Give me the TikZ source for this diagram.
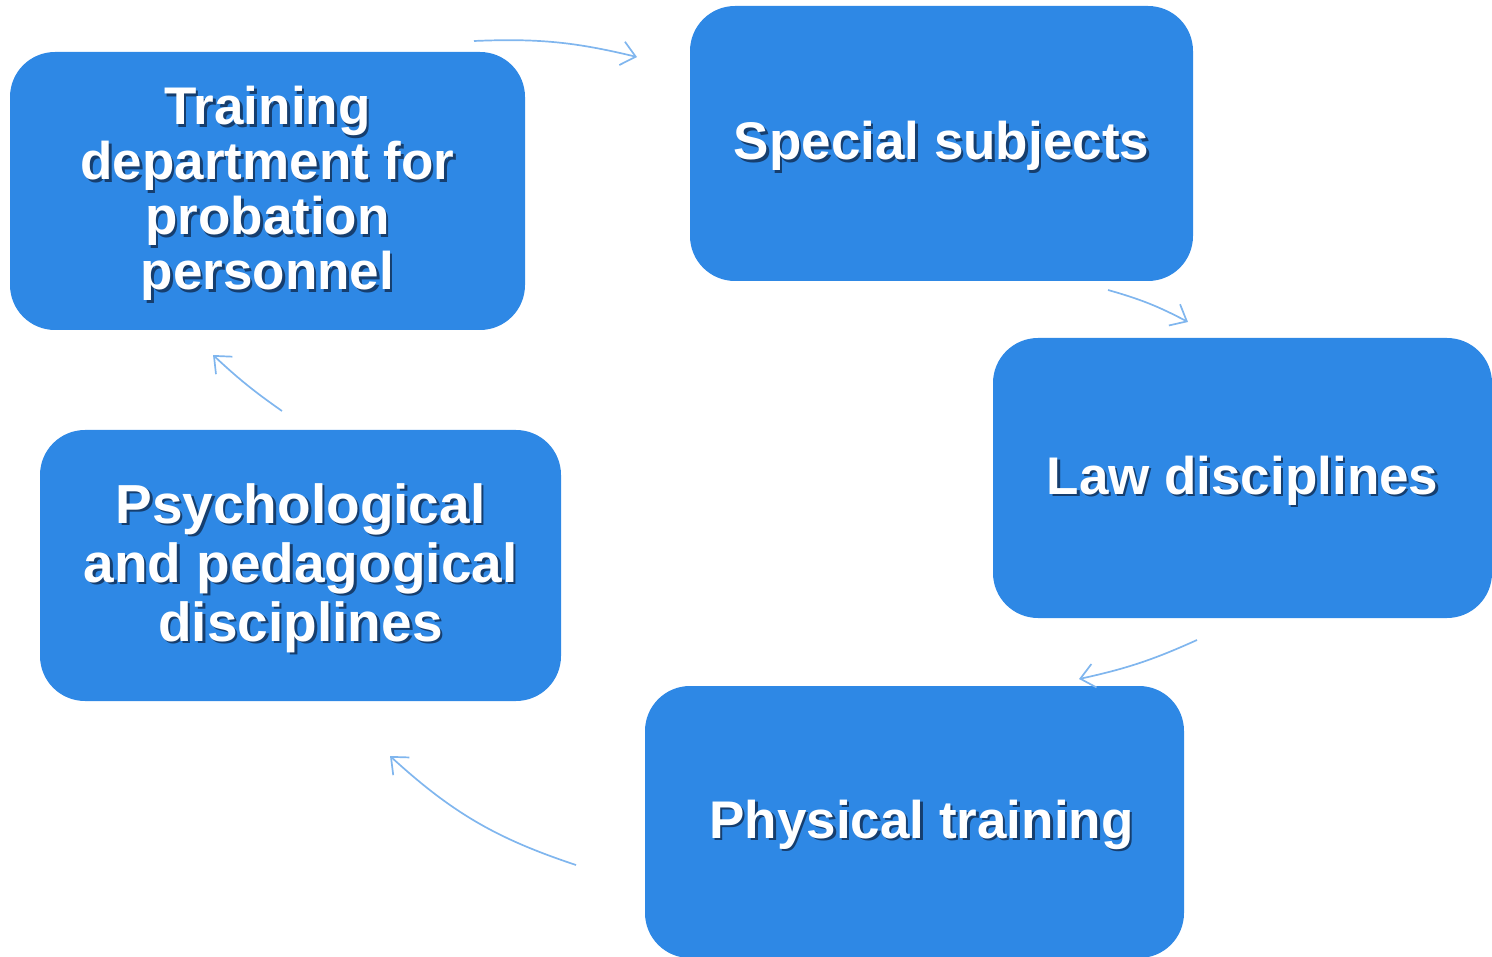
\documentclass[tikz,border=0pt]{standalone}
\usepackage{fontspec}
\setmainfont{Liberation Sans}
\usetikzlibrary{arrows.meta}
\definecolor{boxblue}{RGB}{46,136,229}
\definecolor{arrowblue}{RGB}{128,182,238}
\definecolor{shadowblue}{RGB}{22,62,110}
\newcommand{\shtxt}[1]{\leavevmode\rlap{\kern2.5pt\raisebox{-2.5pt}{\color{shadowblue}#1}}#1}
\tikzset{
  topic/.style={fill=boxblue, rounded corners=45pt, text=white, align=center,
    font=\fontsize{53}{55}\selectfont\bfseries, inner sep=0pt},
  topiclbl/.style={topic, fill=none, yshift=-4pt},
  cycarrow/.style={draw=arrowblue, line width=1.7pt,
    -{Straight Barb[length=14pt,width=24pt,line width=1.7pt]}}
}
\begin{document}
\begin{tikzpicture}[x=1pt,y=-1pt]
\useasboundingbox (0,0) rectangle (1492,957);
% boxes
\node[topic, minimum width=515pt, minimum height=278pt] (train) at (267.5,191) {};
\node[topic, minimum width=503pt, minimum height=275pt] (spec) at (941.5,143.5) {};
\node[topic, minimum width=499pt, minimum height=280pt] (law) at (1242.5,478) {};
\node[topic, minimum width=539pt, minimum height=272pt] (phys) at (914.5,822) {};
\node[topic, minimum width=521pt, minimum height=271pt] (psych) at (300.5,565.5) {};
% labels
\node[topiclbl] (trainlbl) at (train) {\shtxt{Training}\\\shtxt{department for}\\\shtxt{probation}\\\shtxt{personnel}};
\node[topiclbl] (speclbl) at (spec) {\shtxt{Special subjects}};
\node[topiclbl] (lawlbl) at (law) {\shtxt{Law disciplines}};
\node[topiclbl, xshift=7pt] (physlbl) at (phys) {\shtxt{Physical training}};
\node[topiclbl, font=\fontsize{55}{59}\selectfont\bfseries] (psychlbl) at (psych) {\shtxt{Psychological}\\\shtxt{and pedagogical}\\\shtxt{disciplines}};
% arrow ends
\coordinate (a1s) at (474,41);   \coordinate (a1e) at (637,57);
\coordinate (a2s) at (1108,290); \coordinate (a2e) at (1188,322);
\coordinate (a3s) at (1197,640); \coordinate (a3e) at (1079,679);
\coordinate (a4s) at (576,865);  \coordinate (a4e) at (390,756);
\coordinate (a5s) at (282,411);  \coordinate (a5e) at (213,355);
% arrows
\draw[cycarrow] (a1s) to[bend left=8] (a1e);
\draw[cycarrow] (a2s) to[bend left=6] (a2e);
\draw[cycarrow] (a3s) to[bend left=6] (a3e);
\draw[cycarrow] (a4s) to[bend left=12] (a4e);
\draw[cycarrow] (a5s) to[bend left=4] (a5e);
\end{tikzpicture}
\end{document}
